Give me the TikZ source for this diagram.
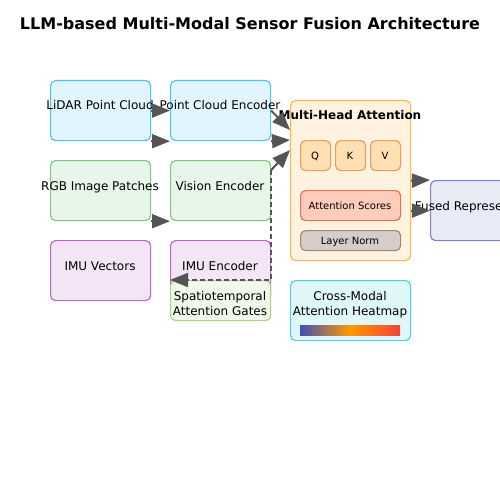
\documentclass[tikz,border=0pt]{standalone}
\usepackage{fontspec}
\setmainfont{DejaVu Sans}
\usetikzlibrary{arrows.meta,calc}
\definecolor{bfill}{HTML}{E1F5FE}\definecolor{bdraw}{HTML}{4FC3F7}
\definecolor{gfill}{HTML}{E8F5E9}\definecolor{gdraw}{HTML}{81C784}
\definecolor{pfill}{HTML}{F3E5F5}\definecolor{pdraw}{HTML}{BA68C8}
\definecolor{lgfill}{HTML}{F1F8E9}\definecolor{lgdraw}{HTML}{AED581}
\definecolor{ofill}{HTML}{FFF3E0}\definecolor{odraw}{HTML}{FFB74D}
\definecolor{qfill}{HTML}{FFE0B2}\definecolor{qdraw}{HTML}{F29B5E}
\definecolor{sfill}{HTML}{FFCCBC}\definecolor{sdraw}{HTML}{E2725A}
\definecolor{nfill}{HTML}{D7CCC8}\definecolor{ndraw}{HTML}{A1887F}
\definecolor{cfill}{HTML}{E0F7FA}\definecolor{cdraw}{HTML}{4DD0E1}
\definecolor{ffill}{HTML}{E8EAF6}\definecolor{fdraw}{HTML}{7986CB}
\definecolor{arr}{HTML}{555555}
\definecolor{hblue}{HTML}{3F51B5}\definecolor{horange}{HTML}{FF9800}\definecolor{hred}{HTML}{F44336}
\begin{document}
\begin{tikzpicture}[x=1pt,y=-1pt,
  box/.style={draw, rounded corners=5pt, line width=1.2pt, inner sep=0pt, anchor=north west},
  wide/.style={minimum width=100pt, minimum height=60pt},
  txt/.style={anchor=base, inner sep=0pt, font=\fontsize{12}{14}\selectfont},
  stxt/.style={anchor=base, inner sep=0pt, font=\fontsize{10}{12}\selectfont},
  flow/.style={draw=arr, line width=2pt, -{Triangle[length=18pt,width=14pt]}},
  gate/.style={draw=arr, line width=2pt, dash pattern=on 5pt off 3pt, -{Triangle[length=18pt,width=14pt]}}]
\useasboundingbox (0,0) rectangle (500,500);
\fill[white] (0,0) rectangle (500,500);
\clip (0,0) rectangle (500,500);
\node[anchor=base, inner sep=0pt, font=\fontsize{16}{19}\selectfont\bfseries] (title) at (250,30) {LLM-based Multi-Modal Sensor Fusion Architecture};
% left column
\node[box, wide, fill=bfill, draw=bdraw] (lidar) at (50,80) {};
\node[box, wide, fill=gfill, draw=gdraw] (rgb) at (50,160) {};
\node[box, wide, fill=pfill, draw=pdraw] (imu) at (50,240) {};
% encoders
\node[box, wide, fill=bfill, draw=bdraw] (pce) at (170,80) {};
\node[box, wide, fill=gfill, draw=gdraw] (venc) at (170,160) {};
\node[box, wide, fill=pfill, draw=pdraw] (ienc) at (170,240) {};
\node[box, minimum width=100pt, minimum height=40pt, fill=lgfill, draw=lgdraw] (gates) at (170,280) {};
% attention
\node[box, minimum width=120pt, minimum height=160pt, fill=ofill, draw=odraw] (mha) at (290,100) {};
\node[box, minimum width=30pt, minimum height=30pt, fill=qfill, draw=qdraw] (q) at (300,140) {};
\node[box, minimum width=30pt, minimum height=30pt, fill=qfill, draw=qdraw] (k) at (335,140) {};
\node[box, minimum width=30pt, minimum height=30pt, fill=qfill, draw=qdraw] (v) at (370,140) {};
\node[box, minimum width=100pt, minimum height=30pt, fill=sfill, draw=sdraw] (scores) at (300,190) {};
\node[box, minimum width=100pt, minimum height=20pt, fill=nfill, draw=ndraw] (norm) at (300,230) {};
\node[box, minimum width=120pt, minimum height=60pt, fill=cfill, draw=cdraw] (heat) at (290,280) {};
\shade[left color=hblue, right color=hred, middle color=horange] (300,325) rectangle (400,335);
\node[box, wide, fill=ffill, draw=fdraw] (fused) at (430,180) {};
% texts
\node[txt] (tlidar) at (100,110) {LiDAR Point Cloud};
\node[txt] (trgb) at (100,190) {RGB Image Patches};
\node[txt] (timu) at (100,270) {IMU Vectors};
\node[txt] (tpce) at (220,110) {Point Cloud Encoder};
\node[txt] (tvenc) at (220,190) {Vision Encoder};
\node[txt] (tienc) at (220,270) {IMU Encoder};
\node[txt] (tg1) at (220,300) {Spatiotemporal};
\node[txt] (tg2) at (220,315) {Attention Gates};
\node[txt, font=\fontsize{12}{14}\selectfont\bfseries] (tmha) at (350,120) {Multi-Head Attention};
\node[stxt] (tq) at (315,159.5) {Q};
\node[stxt] (tk) at (350,159.5) {K};
\node[stxt] (tv) at (385,159.5) {V};
\node[stxt] (tscores) at (350,209.5) {Attention Scores};
\node[stxt] (tnorm) at (350,244.5) {Layer Norm};
\node[txt] (th1) at (350,300) {Cross-Modal};
\node[txt] (th2) at (350,315) {Attention Heatmap};
\node[txt] (tfused) at (480,210) {Fused Representation};
% connectors
\draw[flow] (lidar.east) -- (pce.west);
\draw[flow] (lidar.south east) -- (pce.south west);
\draw[flow] (rgb.south east) -- (venc.south west);
\draw[flow] (pce.east) -- ($(mha.north west)+(0,30)$);
\draw[flow] (pce.south east) -- ($(mha.north west)+(0,40)$);
\coordinate (vstart) at ($(venc.north east)+(0,10)$);
\draw[flow] (vstart) -- ($(mha.north west)+(0,50)$);
\draw[gate] (vstart) -- (gates.north east) -- (gates.north west);
\draw[flow] (mha.east) -- (fused.north west);
\draw[flow] ($(mha.east)+(0,30)$) -- (fused.west);
\end{tikzpicture}
\end{document}
